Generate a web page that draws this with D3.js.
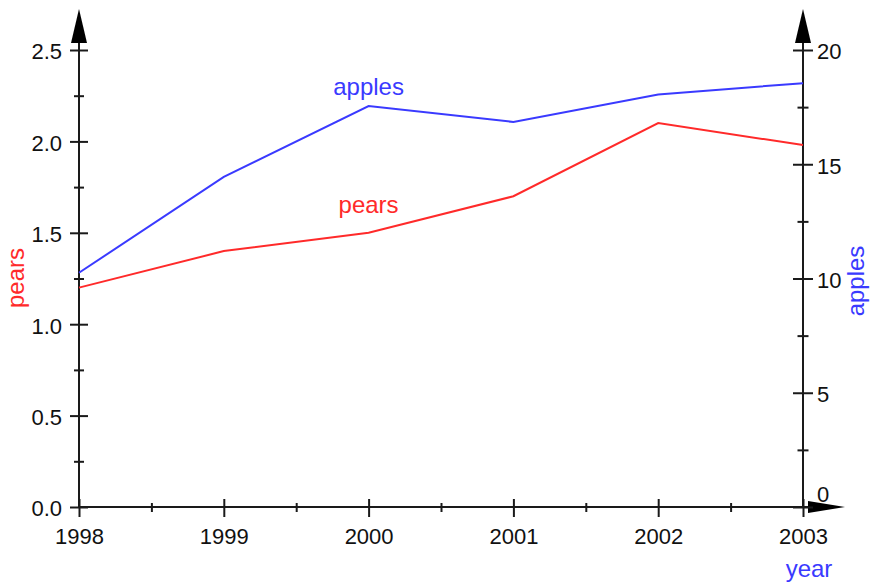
<!DOCTYPE html>
<html>
<head>
<meta charset="utf-8">
<script src="https://cdn.jsdelivr.net/npm/d3@7"></script>
<style>
  html, body { margin: 0; padding: 0; background: #fff; }
  svg { display: block; font-family: "Liberation Sans", Arial, sans-serif; }
</style>
</head>
<body>
<svg id="chart" width="875" height="584"></svg>
<script>
const years = [1998, 1999, 2000, 2001, 2002, 2003];
const pears = [1.2, 1.4, 1.5, 1.7, 2.1, 1.98];
const apples = [10.25, 14.45, 17.55, 16.85, 18.05, 18.55];
const leftTicks = [0, 0.5, 1.0, 1.5, 2.0, 2.5];
const leftMinor = [0.25, 0.75, 1.25, 1.75, 2.25];
const rightTicks = [0, 5, 10, 15, 20];
const rightMinor = [2.5, 7.5, 12.5, 17.5];
const xMinor = [1998.5, 1999.5, 2000.5, 2001.5, 2002.5];

const svg = d3.select("#chart");
const axisColor = "#1a1a1a";
const pearColor = "#ff2a2a";
const appleColor = "#3a3aff";

const x = d3.scaleLinear().domain([1998, 2003]).range([79, 803]);
const yL = d3.scaleLinear().domain([0, 2.5]).range([507, 50]);
const yR = d3.scaleLinear().domain([0, 20]).range([507, 50]);

function styleAxis(g) {
  g.select(".domain").remove();
  g.selectAll("line").attr("stroke", axisColor).attr("stroke-width", 2);
  g.selectAll("text").attr("fill", "#111").style("font-size", "22px")
    .style("font-family", '"Liberation Sans", Arial, sans-serif');
}

// axis lines
svg.append("line").attr("x1", x(1998)).attr("x2", 812).attr("y1", yL(0)).attr("y2", yL(0))
  .attr("stroke", axisColor).attr("stroke-width", 2);
svg.append("line").attr("x1", x(1998)).attr("x2", x(1998)).attr("y1", yL(0)).attr("y2", 40)
  .attr("stroke", axisColor).attr("stroke-width", 2);
svg.append("line").attr("x1", x(2003)).attr("x2", x(2003)).attr("y1", yL(0)).attr("y2", 40)
  .attr("stroke", axisColor).attr("stroke-width", 2);

// arrowheads
function arrowUp(cx) {
  svg.append("path").attr("d", `M${cx},9 L${cx - 8},43 L${cx + 8},43 Z`).attr("fill", "#000");
}
arrowUp(x(1998));
arrowUp(x(2003));
svg.append("path").attr("d", `M845,${yL(0)} L808,${yL(0) - 6} L808,${yL(0) + 6} Z`).attr("fill", "#000");

// left axis
const gL = svg.append("g").attr("transform", `translate(${x(1998)},0)`)
  .call(d3.axisLeft(yL).tickValues(leftTicks).tickFormat(d3.format(".1f")).tickSize(9).tickPadding(8));
gL.selectAll(".tick line").attr("x1", 9);
styleAxis(gL);
gL.selectAll(".tick text").attr("dy", "0.4em");
const gLm = svg.append("g").attr("transform", `translate(${x(1998)},0)`)
  .call(d3.axisLeft(yL).tickValues(leftMinor).tickFormat("").tickSize(5));
gLm.selectAll(".tick line").attr("x1", 5);
styleAxis(gLm);

// right axis
const gR = svg.append("g").attr("transform", `translate(${x(2003)},0)`)
  .call(d3.axisRight(yR).tickValues(rightTicks).tickFormat(d3.format("d")).tickSize(10).tickPadding(4));
gR.selectAll(".tick line").attr("x1", -10);
styleAxis(gR);
gR.selectAll(".tick text").attr("dy", d => d === 0 ? "-0.25em" : "0.4em");
const gRm = svg.append("g").attr("transform", `translate(${x(2003)},0)`)
  .call(d3.axisRight(yR).tickValues(rightMinor).tickFormat("").tickSize(5.5));
gRm.selectAll(".tick line").attr("x1", -5.5);
styleAxis(gRm);

// x axis
const gX = svg.append("g").attr("transform", `translate(0,${yL(0)})`)
  .call(d3.axisBottom(x).tickValues(years).tickFormat(d3.format("d")).tickSize(10).tickPadding(11));
gX.selectAll(".tick line").attr("y1", -8);
styleAxis(gX);
const gXm = svg.append("g").attr("transform", `translate(0,${yL(0)})`)
  .call(d3.axisBottom(x).tickValues(xMinor).tickFormat("").tickSize(5));
gXm.selectAll(".tick line").attr("y1", -4);
styleAxis(gXm);

// lines
const linePears = d3.line().x((d, i) => x(years[i])).y(d => yL(d));
const lineApples = d3.line().x((d, i) => x(years[i])).y(d => yR(d));
svg.append("path").datum(pears).attr("d", linePears).attr("fill", "none")
  .attr("stroke", pearColor).attr("stroke-width", 2);
svg.append("path").datum(apples).attr("d", lineApples).attr("fill", "none")
  .attr("stroke", appleColor).attr("stroke-width", 2);

// labels
const labelFont = '"Liberation Sans", Arial, sans-serif';
svg.append("text").attr("x", x(2000)).attr("y", 95).attr("text-anchor", "middle")
  .attr("fill", appleColor).style("font-size", "24px").style("font-family", labelFont).text("apples");
svg.append("text").attr("x", x(2000)).attr("y", 213).attr("text-anchor", "middle")
  .attr("fill", pearColor).style("font-size", "24px").style("font-family", labelFont).text("pears");
svg.append("text").attr("transform", "translate(24,278) rotate(-90)").attr("text-anchor", "middle")
  .attr("fill", pearColor).style("font-size", "24px").style("font-family", labelFont).text("pears");
svg.append("text").attr("transform", "translate(864,281) rotate(-90)").attr("text-anchor", "middle")
  .attr("fill", appleColor).style("font-size", "24px").style("font-family", labelFont).text("apples");
svg.append("text").attr("x", 809).attr("y", 577).attr("text-anchor", "middle")
  .attr("fill", appleColor).style("font-size", "24px").style("font-family", labelFont).text("year");
</script>
</body>
</html>
